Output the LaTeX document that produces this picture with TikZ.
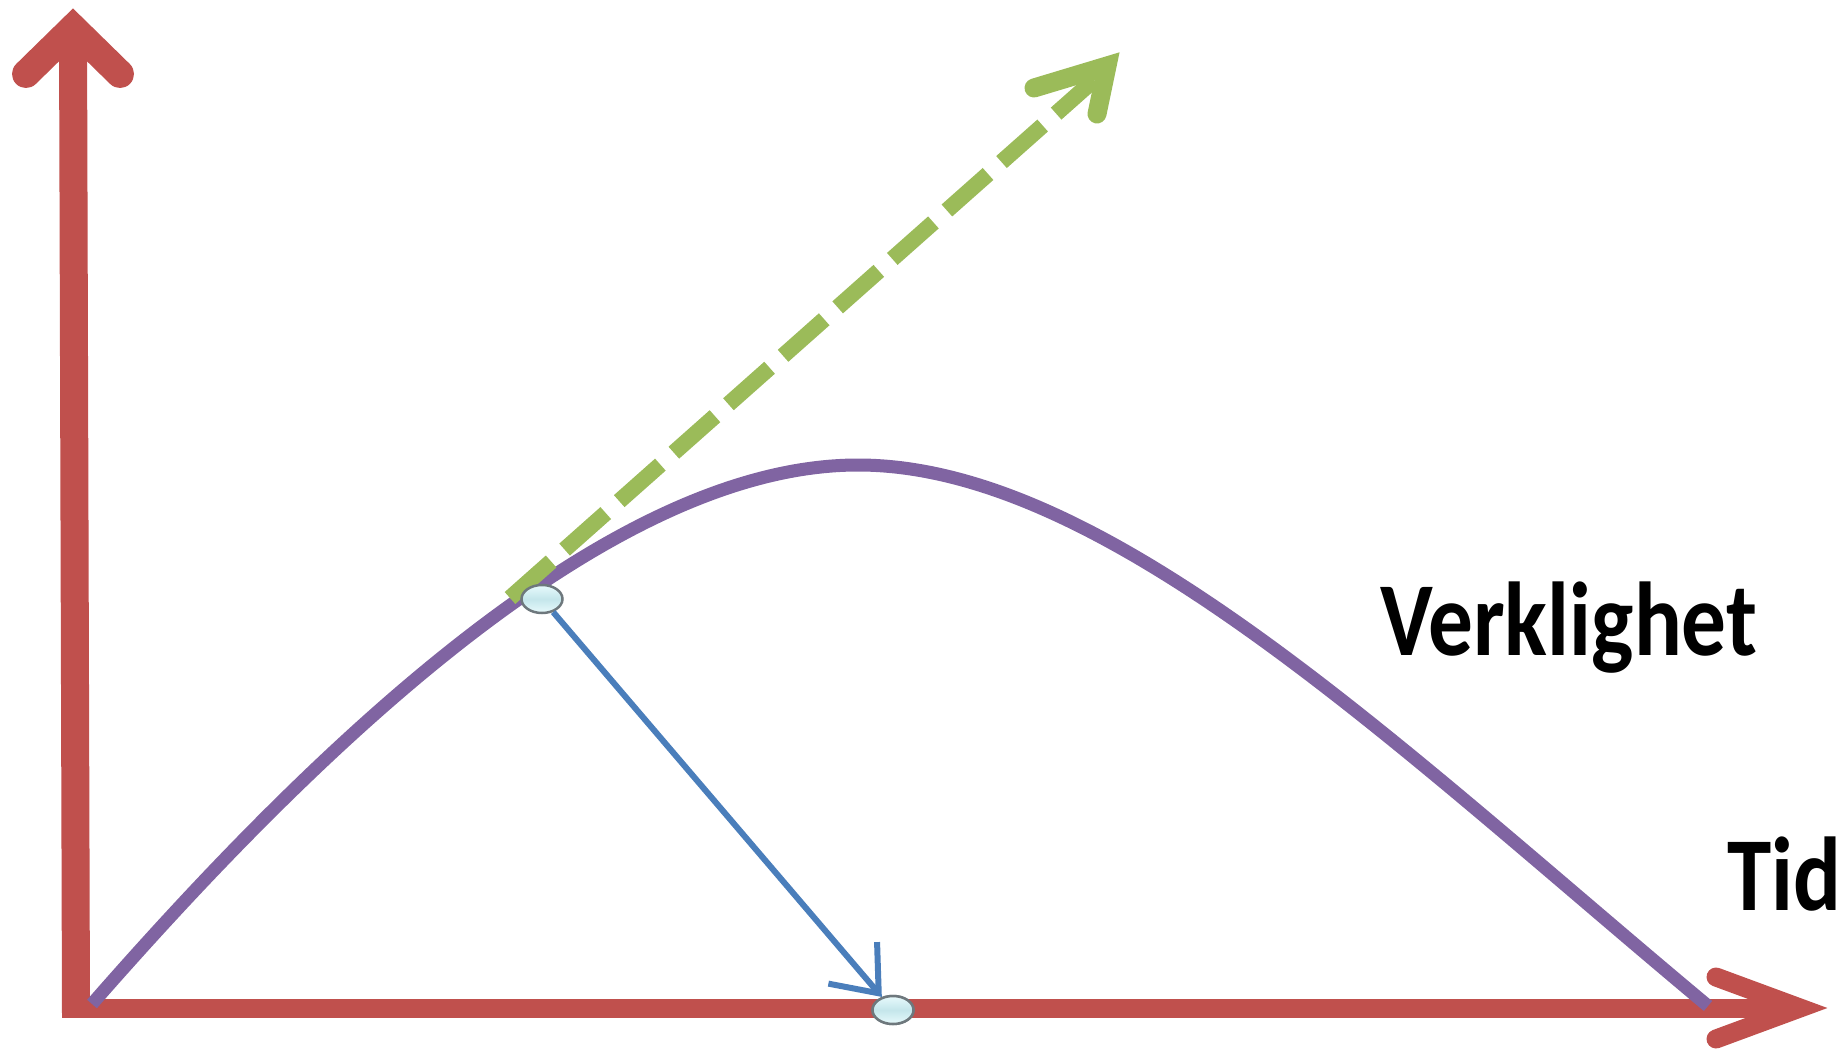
\documentclass[tikz,border=0pt]{standalone}
\usepackage{fontspec}
\setmainfont{Carlito}
\usetikzlibrary{shapes.geometric,arrows.meta}
\definecolor{axisred}{RGB}{192,80,77}
\definecolor{curvepurple}{RGB}{128,100,162}
\definecolor{tangentgreen}{RGB}{155,187,89}
\definecolor{arrowblue}{RGB}{74,126,187}
\definecolor{markerrim}{RGB}{110,120,125}
\definecolor{markerlight}{RGB}{232,250,252}
\definecolor{markerband}{RGB}{196,230,235}
\tikzset{
  axisline/.style={draw=axisred, line cap=butt},
  axishead/.style={draw=axisred, line join=miter, line cap=round},
  realcurve/.style={draw=curvepurple, line width=13pt, line cap=butt, line join=round},
  tangentline/.style={draw=tangentgreen, line width=16pt, dash pattern=on 55pt off 18pt},
  tangenthead/.style={draw=tangentgreen, line width=19pt, line join=miter, line cap=round},
  projarrow/.style={draw=arrowblue, line width=6pt, -{Straight Barb[length=40pt,width=64pt,line width=6pt]}},
  marker/.style={ellipse, minimum width=41pt, minimum height=28pt, inner sep=0pt,
    draw=markerrim, line width=2.5pt, top color=markerlight, bottom color=markerlight, middle color=markerband},
  bigtext/.style={anchor=base west, inner sep=0pt, font=\fontsize{105}{105}\selectfont\bfseries}
}
\newcommand{\narrowtext}[1]{\scalebox{0.85}[1]{#1}}
\begin{document}
\begin{tikzpicture}[x=1pt,y=-1pt]
\useasboundingbox (0,0) rectangle (1848,1054);
% axes
\coordinate (O) at (75,1008);
\coordinate (ytip) at (73,28);
\coordinate (xtip) at (1800,1008);
\draw[axisline, line width=28pt] (76,1013) -- (ytip);
\draw[axishead, line width=28pt] (26,74) -- (ytip) -- (120,74);
\draw[axisline, line width=19pt] (62,1008) -- (xtip);
\draw[axishead, line width=19pt] (1716,977) -- (xtip) -- (1716,1039);
% curve
\coordinate (cstart) at (92,1004);
\coordinate (cpeak) at (858,465);
\coordinate (cend) at (1708,1006);
\draw[realcurve] (cstart) .. controls (322,741) and (612,465) .. (cpeak)
  .. controls (1108,465) and (1401,750) .. (cend);
% tangent
\coordinate (tstart) at (510,598);
\coordinate (tend) at (1094,80);
\draw[tangentline] (tstart) -- (tend);
\coordinate (gtip) at (1107,66);
\draw[tangenthead] (1034,88) -- (gtip) -- (1097,114);
% markers and projection
\node[marker] (m1) at (542,599) {};
\node[marker] (m2) at (893,1010) {};
\draw[projarrow] (m1) -- (m2);
\node[marker] at (m2) {};
% labels
\node[bigtext] (verk) at (1380,655) {\narrowtext{Verklighet}};
\node[bigtext] (tid) at (1727,910) {\narrowtext{Tid}};
\end{tikzpicture}
\end{document}
